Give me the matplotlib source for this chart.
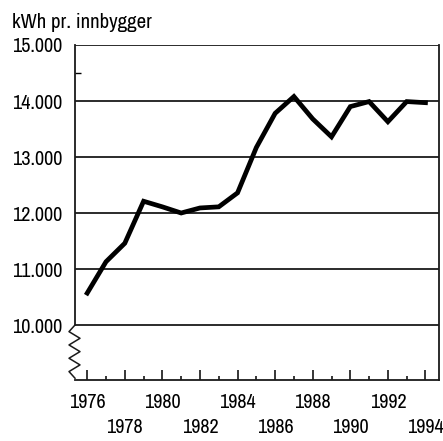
import numpy as np
import matplotlib
matplotlib.use("Agg")
import matplotlib.pyplot as plt
import matplotlib.transforms as mtransforms
from matplotlib.ticker import FixedLocator, MultipleLocator

plt.rcParams['font.family'] = ['Archivo Narrow', 'Roboto Condensed', 'DejaVu Sans']

# kWh pr. innbygger, 1976-1994
years = np.arange(1976, 1995)
kwh = [10570, 11130, 11460, 12210, 12110, 12000, 12090, 12110, 12360,
       13170, 13780, 14080, 13680, 13360, 13900, 13990, 13630, 13990, 13970]

ytick_vals = [10000, 11000, 12000, 13000, 14000, 15000]
ytick_labels = ["10.000", "11.000", "12.000", "13.000", "14.000", "15.000"]
xtick_vals = list(range(1976, 1995, 2))
xtick_labels = [str(y) if i % 2 == 0 else "\n" + str(y) for i, y in enumerate(xtick_vals)]

fig = plt.figure(figsize=(4.43, 4.41), dpi=100)
ax = fig.add_axes([75 / 443, 1 - 380 / 441, (439 - 75) / 443, (380 - 45) / 441])

ax.set_xlim(1975.35, 1994.72)
ax.set_ylim(9018, 15000)

# gridlines
for v in ytick_vals:
    ax.axhline(v, color='#1a1a1a', lw=1.3, zorder=1)

ax.plot(years, kwh, color='black', lw=3.4, solid_joinstyle='miter', zorder=3)

ax.spines['top'].set_visible(False)
ax.spines['left'].set_bounds(10000, 15000)
for s in ['left', 'right', 'bottom']:
    ax.spines[s].set_linewidth(1.3)
    ax.spines[s].set_color('#1a1a1a')

# zigzag axis break below 10.000
zig_y = np.linspace(10000, 9050, 9)
zig_dx = np.array([0, -6, 5, -6, 5, -6, 5, -6, 0])
trans = mtransforms.blended_transform_factory(ax.transAxes, ax.transData)
pts_disp = np.array([trans.transform((0, yy)) + np.array([dx, 0]) for yy, dx in zip(zig_y, zig_dx)])
pts_fig = fig.transFigure.inverted().transform(pts_disp)
fig.add_artist(plt.Line2D(pts_fig[:, 0], pts_fig[:, 1], color='#1a1a1a', lw=1.1,
                          transform=fig.transFigure))

ax.yaxis.set_major_locator(FixedLocator(ytick_vals))
ax.set_yticklabels(ytick_labels)
ax.yaxis.set_minor_locator(FixedLocator([14500]))
ax.tick_params(axis='y', which='major', length=0, pad=9, labelsize=14.5)
ax.tick_params(axis='y', which='minor', direction='in', length=4, width=1)
ax.tick_params(axis='y', right=False)

ax.xaxis.set_major_locator(FixedLocator(xtick_vals))
ax.set_xticklabels(xtick_labels)
ax.xaxis.set_minor_locator(MultipleLocator(1))
ax.tick_params(axis='x', which='major', direction='in', length=7, width=1.1,
               pad=9, labelsize=14.5)
ax.tick_params(axis='x', which='minor', direction='in', length=3, width=1.1)
for lbl in ax.get_xticklabels():
    lbl.set_linespacing(1.45)

fig.text(12 / 443, 1 - 22 / 441, "kWh pr. innbygger", fontsize=15,
         ha='left', va='center')

fig.savefig("out.png", dpi=100)
